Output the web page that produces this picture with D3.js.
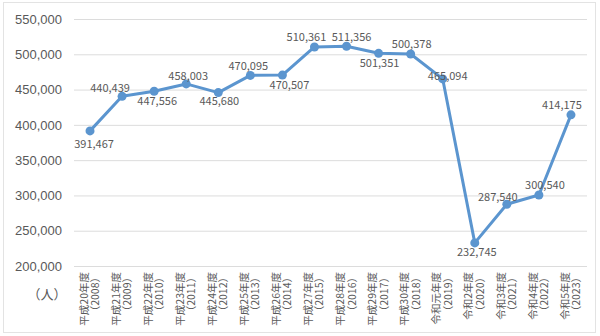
<!DOCTYPE html>
<html>
<head>
<meta charset="utf-8">
<script src="https://cdn.jsdelivr.net/npm/d3@7"></script>
<style>
  body { margin: 0; background: #fff; }
  svg { display: block; font-family: "Noto Sans CJK JP", "Noto Sans", sans-serif; }
</style>
</head>
<body>
<div id="chart"></div>
<script>
// fiscal years (era name + western year)
const eraLabels = ["平成20年度", "平成21年度", "平成22年度", "平成23年度", "平成24年度", "平成25年度", "平成26年度", "平成27年度",
    "平成28年度", "平成29年度", "平成30年度", "令和元年度", "令和2年度", "令和3年度", "令和4年度", "令和5年度"];
const years = ["2008", "2009", "2010", "2011", "2012", "2013", "2014", "2015",
    "2016", "2017", "2018", "2019", "2020", "2021", "2022", "2023"];
const visitors = [391467, 440439, 447556, 458003, 445680, 470095, 470507, 510361,
    511356, 501351, 500378, 465094, 232745, 287540, 300540, 414175];
const yTicks = [200000, 250000, 300000, 350000, 400000, 450000, 500000, 550000];

// hand placement of the value labels (dx, dy from the marker)
const labelShift = [[4, 13], [-12, -8], [3, 10], [2, -8], [1, 9], [-2, -9], [7, 10], [-8, -10],
    [5, -9], [1, 10], [1, -10], [5, -3], [2, 9], [-9, -7], [6, -10], [-9, -10]];

const W = 600, H = 336;
const margin = { left: 74, right: 13, top: 19, bottom: 70 };

const svg = d3.select("#chart").append("svg")
    .attr("width", W)
    .attr("height", H);

// outer frame
svg.append("rect")
    .attr("x", 3.5).attr("y", 2.5)
    .attr("width", 592).attr("height", 330)
    .attr("fill", "#fff")
    .attr("stroke", "#e3e3e3");

const x = d3.scaleBand()
    .domain(years)
    .range([margin.left, W - margin.right]);

const y = d3.scaleLinear()
    .domain([200000, 550000])
    .range([H - margin.bottom, margin.top]);

const cx = d => x(d) + x.bandwidth() / 2;

// gridlines + y labels
const yAxis = svg.append("g")
    .attr("transform", `translate(${margin.left},0)`)
    .call(d3.axisLeft(y).tickValues(yTicks).tickSize(-(W - margin.left - margin.right)).tickPadding(12)
        .tickFormat(d3.format(",")));
yAxis.select(".domain").remove();
yAxis.selectAll(".tick line").attr("stroke", "#dcdcdc");
yAxis.selectAll(".tick text")
    .attr("fill", "#595959")
    .style("font-size", "13px");

// unit
svg.append("text")
    .attr("x", 47).attr("y", 294).attr("dy", "0.35em")
    .attr("text-anchor", "middle")
    .attr("fill", "#595959")
    .style("font-size", "13px")
    .text("（人）");

// x category labels, vertical
const xl = svg.append("g").selectAll("g")
    .data(years)
    .join("g")
    .attr("transform", d => `translate(${cx(d)},${H - margin.bottom + 6}) rotate(-90)`);
const xt = xl.append("text")
    .attr("text-anchor", "end")
    .attr("fill", "#595959")
    .style("font-size", "10.5px");
xt.append("tspan").attr("x", 0).attr("y", -2.3).text((d, i) => eraLabels[i]);
xt.append("tspan").attr("x", 0).attr("y", 9).text(d => "（" + d + "）");

// line
const pts = years.map((d, i) => [cx(d), y(visitors[i])]);
svg.append("path")
    .attr("d", d3.line()(pts))
    .attr("fill", "none")
    .attr("stroke", "#5b95cf")
    .attr("stroke-width", 3)
    .attr("stroke-linejoin", "round");

svg.append("g").selectAll("circle")
    .data(pts)
    .join("circle")
    .attr("cx", d => d[0])
    .attr("cy", d => d[1])
    .attr("r", 4.5)
    .attr("fill", "#5b95cf");

// value labels
svg.append("g").selectAll("text")
    .data(visitors)
    .join("text")
    .attr("x", (d, i) => pts[i][0] + labelShift[i][0])
    .attr("y", (d, i) => pts[i][1] + labelShift[i][1])
    .attr("dy", "0.35em")
    .attr("text-anchor", "middle")
    .attr("fill", "#595959")
    .style("font-size", "11px")
    .text(d => d3.format(",")(d));
</script>
</body>
</html>
